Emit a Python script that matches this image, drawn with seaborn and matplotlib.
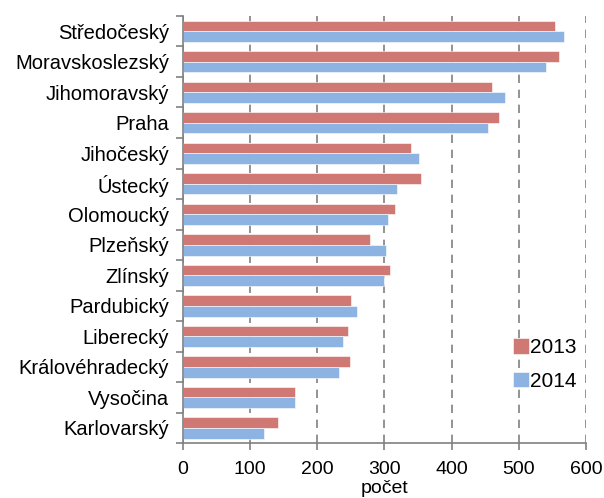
import numpy as np
import pandas as pd
import matplotlib
matplotlib.use('Agg')
import seaborn as sns
import matplotlib.pyplot as plt

kraje = ['Středočeský', 'Moravskoslezský', 'Jihomoravský', 'Praha', 'Jihočeský',
         'Ústecký', 'Olomoucký', 'Plzeňský', 'Zlínský', 'Pardubický',
         'Liberecký', 'Královéhradecký', 'Vysočina', 'Karlovarský']
pocet_2013 = [554, 560, 460, 471, 339, 354, 316, 279, 308, 250, 245, 248, 167, 142]
pocet_2014 = [568, 540, 479, 454, 351, 319, 305, 302, 299, 259, 239, 233, 167, 121]
roky = ['2013', '2014']

data = pd.DataFrame({
    'kraj': kraje * 2,
    'rok': [roky[0]] * len(kraje) + [roky[1]] * len(kraje),
    'pocet': pocet_2013 + pocet_2014,
})

sns.set_style('white')
plt.rcParams['font.family'] = ['Liberation Sans', 'DejaVu Sans']
plt.rcParams['text.color'] = 'black'
plt.rcParams['axes.labelcolor'] = 'black'

fig = plt.figure(figsize=(6.04, 4.98), dpi=100)
ax = fig.add_axes([0.303, 0.110, 0.667, 0.858])

sns.barplot(data=data, y='kraj', x='pocet', hue='rok', order=kraje, orient='h',
            palette=['#CF7874', '#8DB3E2'], width=0.7, ax=ax,
            edgecolor='white', linewidth=0.4, saturation=1)

ax.set_xlim(0, 600)
ax.set_ylim(len(kraje) - 0.5, -0.5)
ax.set_xticks(np.arange(0, 700, 100))
ax.set_axisbelow(True)
ax.xaxis.grid(True, color='#808080', linestyle=(0, (5, 4)), linewidth=1.2)

# y ticks at category borders, like excel
ax.set_yticks(np.arange(-0.5, len(kraje), 1), minor=True)
ax.tick_params(axis='y', which='major', length=0, labelsize=14.5, pad=10, labelcolor='black')
ax.tick_params(axis='y', which='minor', length=5, width=1.2, color='#808080', direction='out', left=True)
ax.tick_params(axis='x', which='major', length=5, width=1.2, color='#808080', direction='out',
               bottom=True, labelsize=14, pad=8, labelcolor='black')

for s in ['top', 'right']:
    ax.spines[s].set_visible(False)
for s in ['left', 'bottom']:
    ax.spines[s].set_color('#808080')
    ax.spines[s].set_linewidth(1.2)

ax.set_ylabel('')
ax.set_xlabel('počet', fontsize=14, labelpad=1)

ax.legend(loc='center left', bbox_to_anchor=(0.794, 0.184), frameon=False, fontsize=15,
          borderpad=0, handlelength=0.75, handleheight=0.75, handletextpad=0.05,
          labelspacing=0.7)

fig.savefig('out.png', dpi=100)
